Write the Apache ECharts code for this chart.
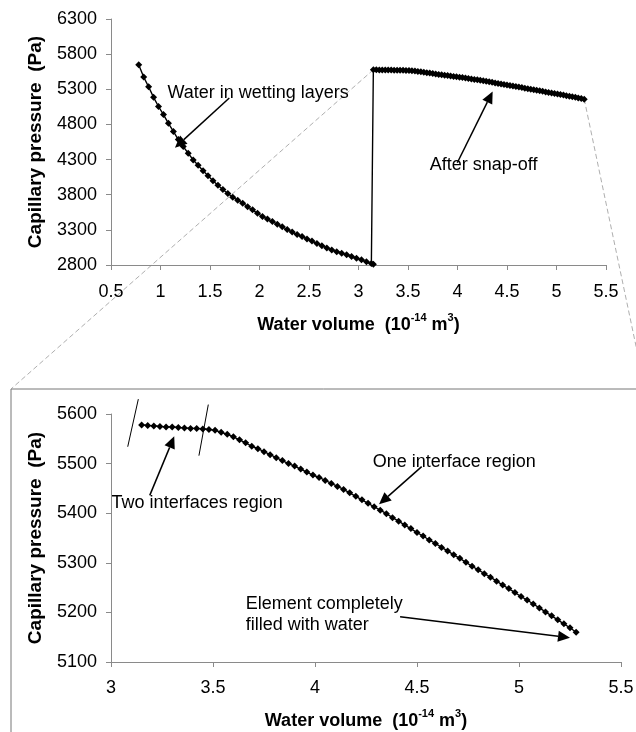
<!DOCTYPE html>
<html>
<head>
<meta charset="utf-8">
<script src="https://cdn.jsdelivr.net/npm/echarts@6/dist/echarts.min.js"></script>
<style>
  html, body { margin: 0; padding: 0; background: #fff; }
  #main { width: 636px; height: 732px; }
</style>
</head>
<body>
<div id="main"></div>
<script>
// water in wetting layers (before snap-off)
const layerVolume = [0.78, 0.83, 0.88, 0.93, 0.98, 1.03, 1.08, 1.13, 1.18, 1.23, 1.28, 1.33, 1.38, 1.43, 1.48,
  1.53, 1.58, 1.63, 1.68, 1.73, 1.78, 1.83, 1.88, 1.93, 1.98, 2.03, 2.08, 2.13, 2.18, 2.23, 2.28, 2.33, 2.38,
  2.43, 2.48, 2.53, 2.58, 2.63, 2.68, 2.73, 2.78, 2.83, 2.88, 2.93, 2.98, 3.03, 3.08, 3.13, 3.15]
const layerPressure = [5648, 5475, 5335, 5185, 5055, 4940, 4815, 4700, 4585, 4485, 4390, 4295, 4220, 4140, 4070,
  4000, 3935, 3875, 3818, 3765, 3720, 3679, 3630, 3585, 3535, 3490, 3455, 3418, 3381, 3345, 3305, 3268, 3235,
  3205, 3170, 3140, 3105, 3075, 3043, 3015, 2990, 2968, 2945, 2920, 2897, 2873, 2845, 2820, 2810]

// after snap-off
const snapVolume = [3.15, 3.18, 3.21, 3.24, 3.27, 3.30, 3.33, 3.36, 3.39, 3.42, 3.45, 3.48, 3.51, 3.54, 3.57,
  3.60, 3.63, 3.66, 3.69, 3.72, 3.75, 3.78, 3.81, 3.84, 3.87, 3.90, 3.93, 3.96, 3.99, 4.02, 4.05, 4.08, 4.11,
  4.14, 4.17, 4.20, 4.23, 4.26, 4.29, 4.32, 4.35, 4.38, 4.41, 4.44, 4.47, 4.50, 4.53, 4.56, 4.59, 4.62, 4.65,
  4.68, 4.71, 4.74, 4.77, 4.80, 4.83, 4.86, 4.89, 4.92, 4.95, 4.98, 5.01, 5.04, 5.07, 5.10, 5.13, 5.16, 5.19,
  5.22, 5.25, 5.28]
const snapPressure = [5578, 5577, 5576, 5575, 5574, 5574, 5573, 5572, 5571, 5571, 5570, 5569, 5567, 5563, 5559,
  5554, 5548, 5542, 5535, 5530, 5524, 5518, 5512, 5506, 5500, 5495, 5489, 5483, 5477, 5472, 5466, 5460, 5454,
  5448, 5441, 5434, 5427, 5420, 5413, 5406, 5399, 5391, 5384, 5376, 5369, 5361, 5354, 5346, 5339, 5331, 5324,
  5316, 5309, 5301, 5293, 5286, 5278, 5271, 5263, 5255, 5248, 5240, 5232, 5225, 5217, 5209, 5201, 5193, 5185,
  5177, 5169, 5160]

// axis ticks: min, max, interval
const topXTicks = [0.5, 5.5, 0.5]
const topYTicks = [2800, 6300, 500]
const bottomXTicks = [3, 5.5, 0.5]
const bottomYTicks = [5100, 5600, 100]

const layerPoints = layerVolume.map((v, i) => [v, layerPressure[i]])
const snapPoints = snapVolume.map((v, i) => [v, snapPressure[i]])

const font = 'Liberation Sans'
const axisGray = '#8a8a8a'

function xAxisOf(grid, ticks, gap, margin) {
  return {
    type: 'value',
    gridIndex: grid,
    min: ticks[0], max: ticks[1], interval: ticks[2],
    name: 'Water volume  (10{sup|-14} m{sup|3})',
    nameLocation: 'middle',
    nameGap: gap,
    nameTextStyle: {
      fontSize: 18, fontWeight: 'bold', color: '#000', fontFamily: font, lineHeight: 26,
      rich: { sup: { fontSize: 11, fontWeight: 'bold', color: '#000', fontFamily: font, verticalAlign: 'top', lineHeight: 12 } }
    },
    axisLine: { lineStyle: { color: axisGray, width: 1 } },
    axisTick: { length: 5, lineStyle: { color: axisGray } },
    axisLabel: { fontSize: 18, color: '#000', margin: margin, fontFamily: font, formatter: v => String(v) },
    splitLine: { show: false }
  }
}

function yAxisOf(grid, ticks) {
  return {
    type: 'value',
    gridIndex: grid,
    min: ticks[0], max: ticks[1], interval: ticks[2],
    name: 'Capillary pressure  (Pa)',
    nameLocation: 'middle',
    nameGap: 66,
    nameTextStyle: { fontSize: 19, fontWeight: 'bold', color: '#000', fontFamily: font },
    axisLine: { show: true, lineStyle: { color: axisGray, width: 1 } },
    axisTick: { show: true, length: 5, lineStyle: { color: axisGray } },
    axisLabel: { fontSize: 18, color: '#000', margin: 14, fontFamily: font, formatter: v => String(v) },
    splitLine: { show: false }
  }
}

const seriesStyle = {
  type: 'line',
  color: '#000',
  symbol: 'diamond',
  symbolSize: 7,
  showAllSymbol: true,
  lineStyle: { color: '#000', width: 1.4 },
  itemStyle: { color: '#000' }
}

const dom = document.querySelector('#main')
const myChart = echarts.init(dom)

const option = {
  animation: false,
  backgroundColor: '#fff',
  textStyle: { fontFamily: font },
  grid: [
    { left: 111, top: 19, width: 495, height: 246, outerBoundsMode: 'none' },
    { left: 111, top: 414, width: 510, height: 248, outerBoundsMode: 'none' }
  ],
  xAxis: [xAxisOf(0, topXTicks, 47, 18), xAxisOf(1, bottomXTicks, 46, 17)],
  yAxis: [yAxisOf(0, topYTicks), yAxisOf(1, bottomYTicks)],
  series: [
    Object.assign({}, seriesStyle, { xAxisIndex: 0, yAxisIndex: 0, data: layerPoints.concat(snapPoints) }),
    Object.assign({}, seriesStyle, { xAxisIndex: 1, yAxisIndex: 1, data: snapPoints })
  ]
}
myChart.setOption(option)

// 注释：文字和箭头的位置用数据坐标给出
const px = (grid, pt) => myChart.convertToPixel({ gridIndex: grid }, pt)

function arrow(a, b) {
  const ang = Math.atan2(b[1] - a[1], b[0] - a[0])
  const len = 12, half = 5.5
  const base = [b[0] - len * Math.cos(ang), b[1] - len * Math.sin(ang)]
  const nx = -Math.sin(ang) * half, ny = Math.cos(ang) * half
  return [
    { type: 'line', shape: { x1: a[0], y1: a[1], x2: base[0], y2: base[1] }, style: { stroke: '#000', lineWidth: 1.5 } },
    { type: 'polygon', shape: { points: [b, [base[0] + nx, base[1] + ny], [base[0] - nx, base[1] - ny]] }, style: { fill: '#000' } }
  ]
}

function label(p, text) {
  return {
    type: 'text', x: p[0], y: p[1],
    style: { text: text, fontSize: 18, fontFamily: font, fill: '#000', verticalAlign: 'middle', lineHeight: 21 }
  }
}

function segment(a, b, color, width, dash) {
  return {
    type: 'line',
    shape: { x1: a[0], y1: a[1], x2: b[0], y2: b[1] },
    style: { stroke: color, lineWidth: width, lineDash: dash || null }
  }
}

// 放大框和连接线
const boxLeft = 11, boxTop = 389
const zoomStart = px(0, snapPoints[0])
const zoomEnd = px(0, snapPoints[snapPoints.length - 1])

const graphics = [
  segment([boxLeft, boxTop], [636, boxTop], '#777', 1),
  segment([boxLeft, boxTop], [boxLeft, 732], '#777', 1),
  segment(zoomStart, [boxLeft, boxTop], '#999', 0.8, [5, 3]),
  segment(zoomEnd, [645, boxTop], '#999', 0.8, [5, 3]),

  label(px(0, [1.07, 5250]), 'Water in wetting layers'),
  ...arrow(px(0, [1.695, 5176]), px(0, [1.146, 4468])),
  label(px(0, [3.72, 4221]), 'After snap-off'),
  ...arrow(px(0, [3.998, 4255]), px(0, [4.355, 5270])),

  segment(px(1, [3.134, 5630]), px(1, [3.082, 5534]), '#000', 1),
  segment(px(1, [3.477, 5619]), px(1, [3.431, 5516]), '#000', 1),
  label(px(1, [3.003, 5420]), 'Two interfaces region'),
  ...arrow(px(1, [3.19, 5436]), px(1, [3.31, 5555])),
  label(px(1, [4.283, 5504]), 'One interface region'),
  ...arrow(px(1, [4.523, 5494]), px(1, [4.314, 5418])),
  label(px(1, [3.66, 5196]), 'Element completely\nfilled with water'),
  ...arrow(px(1, [4.417, 5191]), px(1, [5.25, 5149]))
]

myChart.setOption({ graphic: graphics })
</script>
</body>
</html>
